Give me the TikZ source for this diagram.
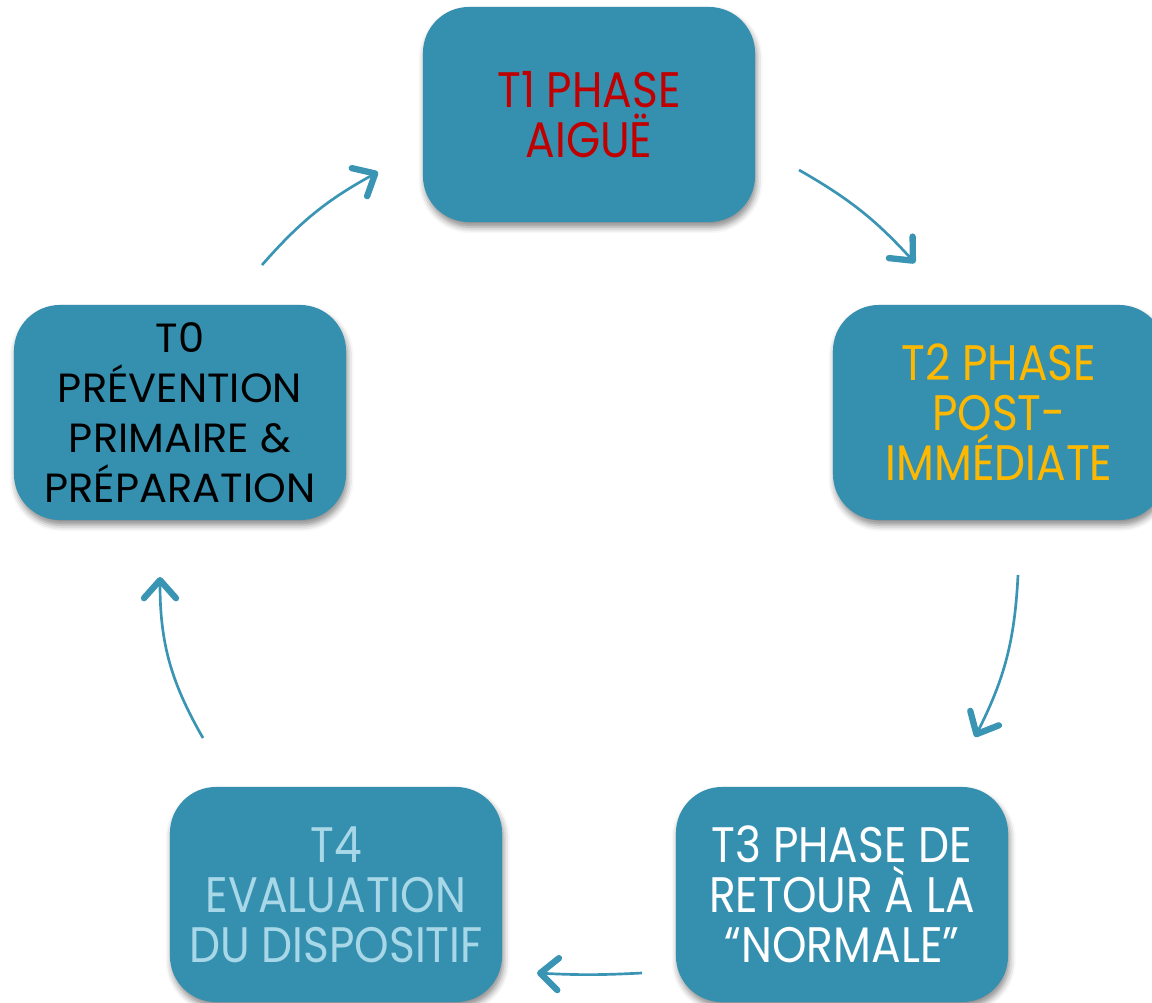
\documentclass[tikz,border=0pt]{standalone}
\usepackage{fontspec}
\setmainfont{Poppins}[FakeStretch=0.88]
\newfontfamily\widefont{Poppins}[FakeStretch=1.02]
\usepackage{xcolor}
\usetikzlibrary{arrows.meta, positioning, shadows.blur}

\definecolor{boxblue}{RGB}{53,143,175}
\definecolor{arrowblue}{RGB}{58,148,180}
\definecolor{phasered}{RGB}{192,0,0}
\definecolor{phaseamber}{RGB}{255,184,0}
\definecolor{phasepale}{RGB}{168,216,232}

\begin{document}
\begin{tikzpicture}[x=0.025cm, y=-0.025cm]
		\tikzstyle{phase} = [draw=none, fill=boxblue, rounded corners=1.15cm, minimum width=8.3cm, minimum height=5.375cm, align=center, inner sep=0pt, font=\fontsize{35.5}{35.6}\selectfont, blur shadow={shadow xshift=0.4mm, shadow yshift=-1.3mm, shadow blur radius=1.5mm, shadow opacity=45}]
		\tikzstyle{arrow} = [draw=arrowblue, line width=1.9pt, -{Straight Barb[length=4.5mm, width=8mm, line width=4.5pt, round]}]
		
		\useasboundingbox (0, 0) rectangle (1152, 1003);
		\clip (0, 0) rectangle (1152, 1003);
		
		\node[phase, text=phasered] 	at (589, 114.5)		(t1) 	{T1 PHASE\\AIGUË};
		\node[phase, text=phaseamber] 	at (999, 412.5)		(t2) 	{T2 PHASE\\POST-\\IMMÉDIATE};
		\node[phase, text=white] 		at (842, 894.5)		(t3) 	{T3 PHASE DE\\RETOUR À LA\\“NORMALE”};
		\node[phase, text=phasepale] 	at (336, 894.5)		(t4) 	{T4\\EVALUATION\\DU DISPOSITIF};
		\node[phase, text=black, font=\widefont\fontsize{29}{35.6}\selectfont] 	at (180, 412.5)		(t0) 	{T0\\PRÉVENTION\\PRIMAIRE \&\\PRÉPARATION};
		
		\coordinate (s01) at (262, 265);	\coordinate (e01) at (378, 172);
		\coordinate (s12) at (799, 170);	\coordinate (e12) at (915, 263);
		\coordinate (s23) at (1018, 575);	\coordinate (e23) at (975, 737);
		\coordinate (s34) at (642, 973);	\coordinate (e34) at (537, 973);
		\coordinate (s40) at (203, 738);	\coordinate (e40) at (160, 577);
		
		\path
		(s01)	edge	[arrow, bend left=10]		(e01)
		(s12)	edge	[arrow, bend left=9]		(e12)
		(s23)	edge	[arrow, bend left=12]		(e23)
		(s34)	edge	[arrow, bend left=3]		(e34)
		(s40)	edge	[arrow, bend left=15]		(e40);
	\end{tikzpicture}
\end{document}
